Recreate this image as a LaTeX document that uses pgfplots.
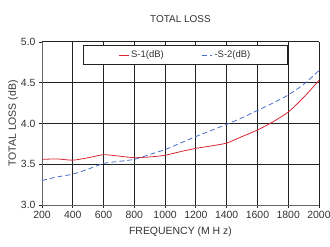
\documentclass[border=0pt]{standalone}
\usepackage{fontspec}
\setmainfont{Liberation Sans}
\usepackage{pgfplots}
\pgfplotsset{compat=1.18}
\definecolor{sred}{RGB}{215,40,50}
\definecolor{sblue}{RGB}{70,110,200}
\definecolor{gridc}{RGB}{35,35,35}
\begin{document}
\begin{tikzpicture}
\path[use as bounding box] (0,0) rectangle (330bp,247bp);
\begin{axis}[
  at={(42bp,42bp)}, anchor=south west,
  scale only axis, width=277bp, height=163bp,
  xmin=200, xmax=2000, ymin=3.0, ymax=5.0,
  xtick={200,400,...,2000}, ytick={3.0,3.5,4.0,4.5,5.0},
  yticklabel style={/pgf/number format/.cd,fixed,fixed zerofill,precision=1},
  xticklabel style={/pgf/number format/.cd,1000 sep={}},
  /pgf/number format/assume math mode=true,
  ticklabel style={font=\fontsize{10.5}{12}\selectfont, text=black!80},
  tick align=outside, tick style={gridc, line width=0.9pt},
  major tick length=3bp,
  xmajorgrids, ymajorgrids,
  grid style={gridc, line width=1pt},
  axis line style={gridc!70, line width=1pt},
  axis x line*=bottom, axis y line*=left,
  xlabel={FREQUENCY (M H z)}, ylabel={TOTAL LOSS (dB)},
  xlabel style={font=\fontsize{10.5}{12}\selectfont, text=black!80, yshift=-1bp},
  ylabel style={font=\fontsize{10.5}{12}\selectfont, text=black!80, yshift=-4bp},
  title={TOTAL LOSS}, title style={font=\fontsize{10}{12}\selectfont, text=black!80, yshift=10bp},
  legend columns=2,
  legend style={at={(0.148,0.982)}, anchor=north west, draw=gridc, line width=0.8pt,
    font=\fontsize{9.5}{11}\selectfont, text=black!80,
    inner xsep=35bp, inner ysep=3.5bp,
    /tikz/every even column/.append style={column sep=36bp}},
  legend image code/.code={\draw[#1, line width=0.8pt] (0bp,0bp) -- (10bp,0bp);},
  legend cell align=left,
]
\addplot[sred, line width=0.8pt, smooth, tension=0.4] coordinates {
 (200,3.56) (300,3.565) (400,3.55) (500,3.58) (600,3.617) (700,3.60) (800,3.58)
 (900,3.59) (1000,3.61) (1100,3.655) (1200,3.695) (1300,3.725) (1400,3.76)
 (1500,3.84) (1600,3.92) (1700,4.02) (1800,4.14) (1900,4.32) (2000,4.53)};
\addplot[sblue, line width=0.8pt, dash pattern=on 5bp off 3bp, smooth, tension=0.4] coordinates {
 (200,3.30) (300,3.345) (400,3.378) (500,3.44) (600,3.51) (700,3.535) (800,3.56)
 (900,3.62) (1000,3.68) (1100,3.76) (1200,3.84) (1300,3.915) (1400,3.99)
 (1500,4.07) (1600,4.16) (1700,4.25) (1800,4.35) (1900,4.48) (2000,4.65)};
\legend{S-1(dB),-S-2(dB)}
\node[anchor=south west, font=\fontsize{4.5}{5}\selectfont, text=black!80, inner sep=1bp] at (rel axis cs:0.005,1) {at RF level -10 dBm};
\end{axis}
\end{tikzpicture}
\end{document}
